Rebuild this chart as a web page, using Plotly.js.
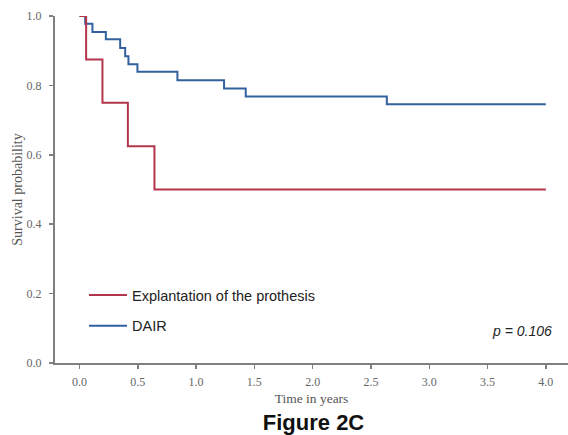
<!DOCTYPE html>
<html>
<head>
<meta charset="utf-8">
<script src="https://cdn.plot.ly/plotly-3.0.1.min.js"></script>
<style>html,body{margin:0;padding:0;background:#fff;}#chart{width:568px;height:435px;}</style>
</head>
<body>
<div id="chart"></div>
<script>
// Kaplan-Meier step points (time in years, survival probability)
var explantTime = [0, 0.057, 0.197, 0.415, 0.643, 4.0];
var explantSurv = [1.0, 0.875, 0.75, 0.625, 0.5, 0.5];

var dairTime = [0, 0.049, 0.111, 0.226, 0.349, 0.392, 0.42, 0.497, 0.84, 1.24, 1.426, 2.636, 4.0];
var dairSurv = [1.0, 0.978, 0.954, 0.933, 0.908, 0.884, 0.861, 0.839, 0.815, 0.791, 0.768, 0.746, 0.746];

var xTicks = [0, 0.5, 1.0, 1.5, 2.0, 2.5, 3.0, 3.5, 4.0];
var xTickLabels = ["0.0", "0.5", "1.0", "1.5", "2.0", "2.5", "3.0", "3.5", "4.0"];
var yTicks = [0, 0.2, 0.4, 0.6, 0.8, 1.0];
var yTickLabels = ["0.0", "0.2", "0.4", "0.6", "0.8", "1.0"];

var seriesNames = ["Explantation of the prothesis", "DAIR"];
var pText = "p = 0.106";

var serif = "'Liberation Serif', 'DejaVu Serif', serif";
var sans = "'Liberation Sans', Arial, sans-serif";

// DAIR drawn first so the red curve sits on top; legend order set by legendrank
var traces = [
  {x: dairTime, y: dairSurv, mode: "lines", line: {shape: "hv", color: "#33609e", width: 2},
   name: seriesNames[1], legendgroup: "b", legendrank: 2},
  {x: explantTime, y: explantSurv, mode: "lines", line: {shape: "hv", color: "#b3354c", width: 2},
   name: seriesNames[0], legendgroup: "a", legendrank: 1}
];

var axisCommon = {
  showgrid: false, zeroline: false, showline: true, linecolor: "#7f7f7f", linewidth: 2,
  ticks: "outside", ticklen: 4, tickwidth: 1.5, tickcolor: "#7f7f7f",
  tickfont: {family: serif, size: 12, color: "#666"}
};

var layout = {
  width: 568, height: 435,
  margin: {l: 55, r: 0, t: 16, b: 72},
  paper_bgcolor: "#fff", plot_bgcolor: "#fff",
  showlegend: true,
  legend: {x: 0.0565, y: 0.242, xanchor: "left", yanchor: "top", tracegroupgap: 9,
           itemwidth: 38,
           font: {family: sans, size: 14.5, color: "#222"}, bgcolor: "rgba(0,0,0,0)"},
  xaxis: Object.assign({}, axisCommon, {
    range: [-0.21, 4.19], tickvals: xTicks, ticktext: xTickLabels, ticklabelstandoff: 3,
    title: {text: "Time in years", font: {family: serif, size: 13.5, color: "#555"}, standoff: 5}
  }),
  yaxis: Object.assign({}, axisCommon, {
    range: [0, 1.0], tickvals: yTicks, ticktext: yTickLabels, ticklabelstandoff: 5,
    title: {text: "Survival probability", font: {family: serif, size: 14, color: "#555"}, standoff: 1}
  }),
  title: {text: "<b>Figure 2C</b>", font: {family: sans, size: 22, color: "#111"},
          x: 0.552, xanchor: "center", y: 0.03, yanchor: "middle", xref: "container", yref: "container"},
  annotations: [
    {text: "<i>" + pText + "</i>", xref: "paper", yref: "paper", x: 0.972, y: 0.093,
     xanchor: "right", yanchor: "middle", showarrow: false,
     font: {family: sans, size: 14, color: "#222"}}
  ]
};

Plotly.newPlot("chart", traces, layout, {displayModeBar: false, staticPlot: true});
</script>
</body>
</html>
